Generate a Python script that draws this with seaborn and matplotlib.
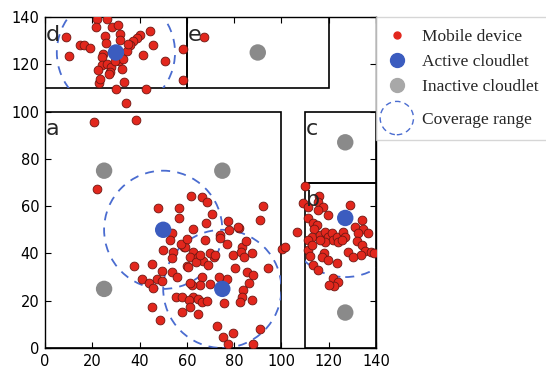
import matplotlib
matplotlib.use("Agg")
import matplotlib.pyplot as plt
import matplotlib.patches as mpatches
from matplotlib.lines import Line2D
from matplotlib.legend_handler import HandlerPatch
import pandas as pd
import seaborn as sns

# Regions: name, (x0, y0, x1, y1)
region_names = ["a", "b", "c", "d", "e"]
region_bounds = [(0, 0, 100, 100), (110, 0, 140, 70), (110, 70, 140, 100),
                 (0, 110, 60, 140), (60, 110, 120, 140)]

# Cloudlets
active_x = [30, 50, 75, 127]
active_y = [125, 50, 25, 55]
active_region = ["d", "a", "a", "b"]
inactive_x = [25, 75, 25, 90, 127, 127]
inactive_y = [75, 75, 25, 125, 87, 15]
coverage_radius = 25

# Mobile devices
mobile_d = [(21.9, 139.3), (26.1, 139.3), (21.6, 135.8), (28.2, 135.8), (31, 136.8),
            (8.9, 131.6), (25.4, 132), (31.7, 133), (31.7, 130.2), (40.2, 132.3),
            (38.8, 131.1), (37.4, 129.7), (36, 128.3), (44.4, 133.9), (45.5, 128.3),
            (14.8, 128.3), (16.6, 128.3), (19, 127), (10.3, 123.5), (24.7, 124.5),
            (24.2, 123.1), (34.6, 125.5), (41.6, 123.8), (31.3, 121.2), (24, 119.8),
            (26.1, 120.3), (27.8, 118.9), (22.5, 117.4), (27.5, 116.8), (32.4, 118.2),
            (50.8, 121.6), (58.5, 126.3), (58.5, 113.2), (23, 112.1), (33.5, 112.5),
            (30, 109.4), (42.7, 109.4), (34.1, 103.8), (20.9, 95.6), (38.5, 96.3),
            (67.4, 131.4), (25.8, 128.9), (33.1, 122.1), (29.6, 121.4), (27.2, 115.9),
            (35.2, 128.5), (23.3, 113.9)]
mobile_a = [(22.1, 67.3), (47.9, 59.1), (56.7, 59.1), (56.7, 54.8), (61.8, 64.3),
            (66.3, 63.7), (68.7, 61.6), (70.5, 56.7), (68, 53), (62.5, 50.3),
            (77.5, 53.7), (82.1, 50.9), (92.4, 59.9), (90.9, 54.1), (53.6, 48.5),
            (52.9, 45.5), (49.8, 41.4), (54.3, 40.8), (58.8, 42.8), (53.6, 37.9),
            (62.7, 40.7), (61.3, 38.6), (64.8, 38.6), (67, 36.9), (63.7, 36.5),
            (69.1, 35.1), (59.9, 34.7), (71.5, 38.6), (74, 47.8), (74, 46.4),
            (76.9, 44), (79.6, 39.3), (83.2, 42.8), (85, 45.1), (82.8, 40.7),
            (84.3, 38.3), (87.4, 40.3), (80.4, 33.7), (85.3, 32.3), (88.1, 30.9),
            (86.4, 27.7), (94.2, 34), (76.9, 29), (83.6, 24.5), (83.2, 21.7),
            (87.4, 20.3), (82.5, 19.6), (75.7, 18.9), (73.7, 29.9), (69.8, 27.1),
            (66.6, 30.2), (65.6, 26.6), (62, 26.6), (62.7, 21.7), (55.3, 21.7),
            (58.1, 21.7), (61, 20.3), (64.8, 20.6), (66.3, 19.6), (68.4, 20),
            (61.3, 17.5), (57.8, 15.4), (64.8, 14.2), (45.4, 17.2), (48.6, 11.8),
            (37.8, 34.7), (40.9, 29), (44.1, 27.3), (45.8, 25.2), (45.4, 35.4),
            (47.5, 29), (49.3, 28.5), (49.3, 32.7), (53.6, 32.3), (55.7, 29.9),
            (60.6, 34.4), (61.3, 27.4), (72.9, 9.3), (75.4, 4.8), (79.4, 6.2),
            (77.5, 1.9), (87.9, 1.7), (90.9, 7.9), (100.1, 41.7), (101.5, 42.8),
            (59.2, 42.6), (65.6, 39.3), (81.8, 51), (106.5, 49.2), (67.5, 45.5),
            (57.5, 44), (70, 40), (60, 46), (78, 50), (71.9, 39.3)]
mobile_b = [(110, 68.5), (109.3, 61.2), (111.4, 59.5), (116, 64.3), (115.6, 61.9),
            (117.7, 59.8), (115.6, 58.4), (119.8, 56.3), (129, 60.5), (134, 54.1),
            (131.1, 51.3), (134.6, 50.2), (136.5, 48.5), (132.3, 48.5), (131.9, 45.3),
            (134, 43.6), (135.4, 41.2), (133.7, 39.3), (137.9, 40.7), (139.3, 40.3),
            (128.3, 40.7), (130.4, 38.6), (111.1, 54.9), (113.5, 52.7), (114.9, 52),
            (113.9, 50.2), (112.8, 47.1), (116.3, 47.8), (118.4, 49.2), (119.8, 47.1),
            (121.3, 48.5), (122, 45.7), (123.4, 47.1), (124, 45), (126.2, 49.2),
            (127, 47.1), (125.5, 45.7), (118.4, 45), (116.3, 45.7), (111.1, 45.7),
            (111.1, 41.5), (112.8, 43.6), (112.1, 38.9), (118.1, 40), (117.3, 38.3),
            (119.6, 37.4), (123.4, 36.1), (113.5, 35.1), (115.6, 33), (122, 29.4),
            (124, 28), (122.4, 26.1), (120.1, 26.8)]

sns.set_theme(style="white")
plt.rcParams["font.family"] = ["DejaVu Sans"]

fig = plt.figure(figsize=(5.46, 3.69), dpi=100)
ax = fig.add_axes([0.0824, 0.0569, 0.6062, 0.897])

devices = pd.DataFrame(mobile_d + mobile_a + mobile_b, columns=["x", "y"])
sns.scatterplot(data=devices, x="x", y="y", color="#e2271d", edgecolor="#6e1712",
                linewidth=0.6, s=40, zorder=3, ax=ax, legend=False)
sns.scatterplot(x=inactive_x, y=inactive_y, color="#8a8a8a", edgecolor="none",
                s=140, zorder=4, ax=ax, legend=False)
sns.scatterplot(x=active_x, y=active_y, color="#3b5cbf", edgecolor="none",
                s=140, zorder=5, ax=ax, legend=False)

# region boxes and labels
bounds = dict(zip(region_names, region_bounds))
for name, (x0, y0, x1, y1) in bounds.items():
    ax.add_patch(mpatches.Rectangle((x0, y0), x1 - x0, y1 - y0, fill=False,
                                    edgecolor="black", linewidth=1.2, zorder=2))
    ax.text(x0 + 0.2, y1 - 10, name, fontsize=16, va="baseline", ha="left", zorder=6)

# coverage circles clipped to their region
for cx, cy, reg in zip(active_x, active_y, active_region):
    x0, y0, x1, y1 = bounds[reg]
    clip = mpatches.Rectangle((x0, y0), x1 - x0, y1 - y0, transform=ax.transData)
    circ = mpatches.Circle((cx, cy), coverage_radius, fill=False, edgecolor="#4a6cd0",
                           linewidth=1.3, linestyle=(0, (5, 4)), zorder=2.5)
    ax.add_patch(circ)
    circ.set_clip_path(clip)

ax.set_xlim(0, 140)
ax.set_ylim(0, 140)
ax.set_xticks(range(0, 141, 20))
ax.set_yticks(range(0, 141, 20))
ax.set_xlabel("")
ax.set_ylabel("")
ax.tick_params(direction="in", length=4, width=0.8, bottom=True, left=True,
               top=True, right=True, labelsize=10.5, colors="black", pad=4)
for sp in ax.spines.values():
    sp.set_color("black")
    sp.set_linewidth(1.0)


class HandlerCircle(HandlerPatch):
    # extra room above (up) and below (down) the dashed circle, in points
    up = 6
    down = 3

    def legend_artist(self, legend, orig_handle, fontsize, handlebox):
        handlebox.height += self.up + self.down
        handlebox.ydescent += self.down
        return super().legend_artist(legend, orig_handle, fontsize, handlebox)

    def create_artists(self, legend, orig_handle, xdescent, ydescent, width, height,
                       fontsize, trans):
        h0 = height - self.up - self.down
        yd0 = ydescent - self.down
        center = (0.5 * width - xdescent, 0.5 * h0 - yd0)
        p = mpatches.Circle(center, radius=12, fill=False, edgecolor="#4a6cd0",
                            linewidth=1.0, linestyle=(0, (4, 3)))
        p.set_transform(trans)
        return [p]


handles = [
    Line2D([], [], marker="o", linestyle="none", markersize=5, color="#e2271d"),
    Line2D([], [], marker="o", linestyle="none", markersize=10, color="#3b5cbf"),
    Line2D([], [], marker="o", linestyle="none", markersize=10, color="#a8a8a8"),
    mpatches.Circle((0, 0), 1),
]
labels = ["Mobile device", "Active cloudlet", "Inactive cloudlet", "Coverage range"]
leg = ax.legend(handles, labels, loc="upper left", bbox_to_anchor=(1.0, 1.0),
                borderaxespad=0, fancybox=False, frameon=True, handlelength=1.0,
                handletextpad=0.95, borderpad=0.7, labelspacing=0.5,
                prop={"family": "Liberation Serif", "size": 12.5},
                handler_map={mpatches.Circle: HandlerCircle()})
leg.get_frame().set_edgecolor("#cccccc")
leg.get_frame().set_linewidth(1.0)

fig.savefig("out.png", dpi=100)
